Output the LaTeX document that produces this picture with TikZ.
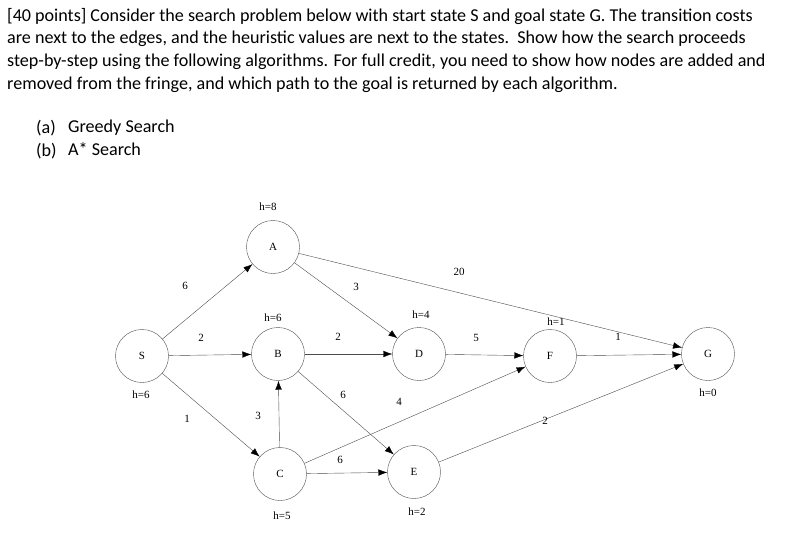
\documentclass[tikz,border=0pt]{standalone}
\usepackage{fontspec}
\setmainfont{Liberation Serif}
\newfontfamily\headfont{Carlito}
\usetikzlibrary{arrows.meta}
\begin{document}
\begin{tikzpicture}[x=1pt,y=-1pt]
        \tikzset{state/.style = {circle, draw=black!70, minimum size=53pt, inner sep=0pt, font=\fontsize{11}{13}\selectfont}}
        \tikzset{edge/.style = {draw=black!70, -{Latex[length=9pt,width=6.5pt,color=black]}}}
        \tikzset{lbl/.style = {font=\fontsize{11}{13}\selectfont}}
        \tikzset{head/.style = {anchor=north west, align=left, inner sep=0pt, font=\headfont\fontsize{18.1}{22.6}\selectfont}}
        \useasboundingbox (0,0) rectangle (787,552);

        % question text
        \node[head] (q) at (7,8)
        {[40 points] Consider the search problem below with start state S and goal state G. The transition costs\\
        are next to the edges, and the heuristic values are next to the states.\ \ Show how the search proceeds\\
        step-by-step using the following algorithms. For full credit, you need to show how nodes are added and\\
        removed from the fringe, and which path to the goal is returned by each algorithm.};
        \node[head] (pa) at (36,120) {(a)\\(b)};
        \node[head] (parts) at (68,120) {Greedy Search\\A* Search};

        % states
        \node[state] (S) at (142,356) {S};
        \node[state] (A) at (273,247) {A};
        \node[state] (B) at (278,354) {B};
        \node[state] (D) at (419,354) {D};
        \node[state] (F) at (550,356) {F};
        \node[state] (G) at (708,354) {G};
        \node[state] (C) at (280,474) {C};
        \node[state] (E) at (414,472) {E};

        % heuristics
        \node[lbl] (hA) at (268,207) {h=8};
        \node[lbl] (hB) at (273,318) {h=6};
        \node[lbl] (hD) at (421,315) {h=4};
        \node[lbl] (hF) at (556,322) {h=1};
        \node[lbl] (hS) at (141,395) {h=6};
        \node[lbl] (hG) at (708,393) {h=0};
        \node[lbl] (hC) at (282,516) {h=5};
        \node[lbl] (hE) at (417,512) {h=2};

        % edges
        \draw[edge] (S) -- (A);
        \draw[edge] (S) -- (B);
        \draw[edge] (S) -- (C);
        \draw[edge] (A) -- (D);
        \draw[edge] (A) -- (G);
        \draw[edge] (B) -- (D);
        \draw[edge] (B) -- (E);
        \draw[edge] (C) -- (B);
        \draw[edge] (C) -- (E);
        \draw[edge] (C) -- (F);
        \draw[edge] (D) -- (F);
        \draw[edge] (F) -- (G);
        \draw[edge] (E) -- (G);

        % costs
        \node[lbl] (cSA) at (185,286) {6};
        \node[lbl] (cSB) at (201,338) {2};
        \node[lbl] (cSC) at (187,419) {1};
        \node[lbl] (cAD) at (356,287) {3};
        \node[lbl] (cAG) at (459,272) {20};
        \node[lbl] (cBD) at (338,337) {2};
        \node[lbl] (cBE) at (343,395) {6};
        \node[lbl] (cCB) at (258,416) {3};
        \node[lbl] (cCE) at (340,460) {6};
        \node[lbl] (cCF) at (399,402) {4};
        \node[lbl] (cDF) at (476,338) {5};
        \node[lbl] (cFG) at (618,337) {1};
        \node[lbl] (cEG) at (545,421) {2};
\end{tikzpicture}
\end{document}
